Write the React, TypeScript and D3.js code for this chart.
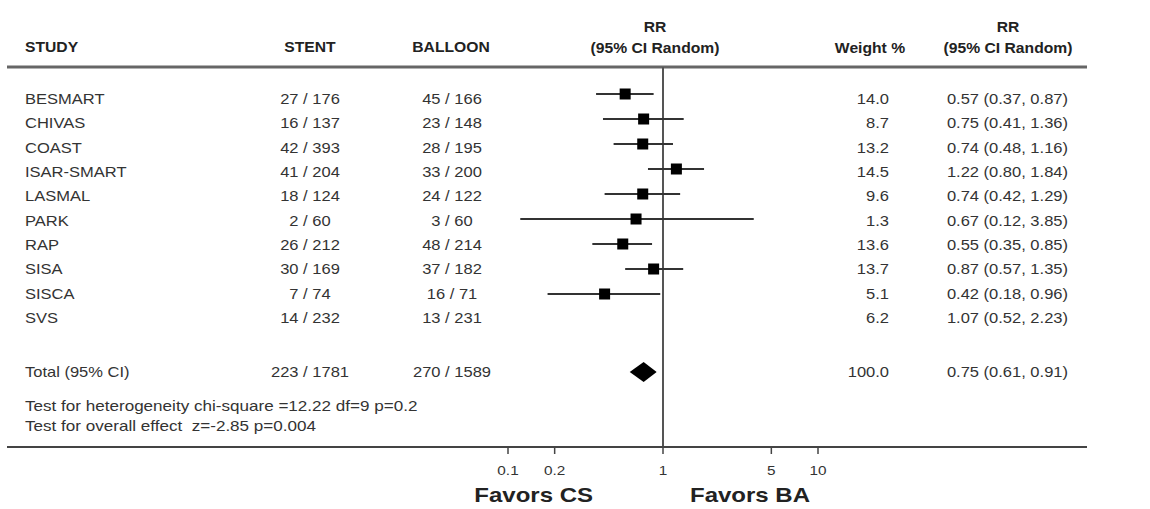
import React, { useEffect, useRef } from 'react';
import * as d3 from 'd3';

const studies = ['BESMART', 'CHIVAS', 'COAST', 'ISAR-SMART', 'LASMAL', 'PARK', 'RAP', 'SISA', 'SISCA', 'SVS'];
const stentEvents = [27, 16, 42, 41, 18, 2, 26, 30, 7, 14];
const stentTotal = [176, 137, 393, 204, 124, 60, 212, 169, 74, 232];
const balloonEvents = [45, 23, 28, 33, 24, 3, 48, 37, 16, 13];
const balloonTotal = [166, 148, 195, 200, 122, 60, 214, 182, 71, 231];
const weights = [14.0, 8.7, 13.2, 14.5, 9.6, 1.3, 13.6, 13.7, 5.1, 6.2];
const rr = [0.57, 0.75, 0.74, 1.22, 0.74, 0.67, 0.55, 0.87, 0.42, 1.07];
const rrLow = [0.37, 0.41, 0.48, 0.80, 0.42, 0.12, 0.35, 0.57, 0.18, 0.52];
const rrHigh = [0.87, 1.36, 1.16, 1.84, 1.29, 3.85, 0.85, 1.35, 0.96, 2.23];
// the source figure has no marker drawn for SVS
const drawn = [true, true, true, true, true, true, true, true, true, false];

const total = { stent: [223, 1781], balloon: [270, 1589], weight: 100.0, rr: 0.75, low: 0.61, high: 0.91 };
const axisTicks = [0.1, 0.2, 1, 5, 10];

const fmt2 = d3.format('.2f');
const fmt1 = d3.format('.1f');

const App = () => {
  const ref = useRef(null);

  useEffect(() => {
    const svg = d3.select(ref.current);
    svg.selectAll('*').remove();

    const W = 1150, H = 509;
    const x = d3.scaleLog().domain([0.1, 10]).range([508, 818]);
    const rowY = d3.scaleLinear().domain([0, 9]).range([99, 318]);
    const markY = d3.scaleLinear().domain([0, 8]).range([94, 294]);
    const totalY = 372;

    svg.append('rect').attr('width', W).attr('height', H).attr('fill', '#fff');

    const txt = (g, s, tx, ty, opts = {}) => {
      const { anchor = 'start', bold = false, size = 14, sx = 1.18, color = '#333' } = opts;
      g.append('g')
        .attr('transform', `translate(${tx},${ty}) scale(${sx},1)`)
        .append('text')
        .attr('text-anchor', anchor)
        .attr('dominant-baseline', 'central')
        .attr('font-family', 'Liberation Sans, Arial, sans-serif')
        .attr('font-size', size)
        .attr('font-weight', bold ? 'bold' : 'normal')
        .attr('fill', color)
        .style('white-space', 'pre')
        .text(s);
    };

    // header
    const hd = { bold: true, color: '#222', sx: 1.12 };
    txt(svg, 'STUDY', 25, 47, hd);
    txt(svg, 'STENT', 310, 47, { ...hd, anchor: 'middle' });
    txt(svg, 'BALLOON', 451, 47, { ...hd, anchor: 'middle' });
    txt(svg, 'RR', 655, 27, { ...hd, anchor: 'middle' });
    txt(svg, '(95% CI Random)', 655, 48, { ...hd, anchor: 'middle' });
    txt(svg, 'Weight %', 870, 48, { ...hd, anchor: 'middle' });
    txt(svg, 'RR', 1008, 27, { ...hd, anchor: 'middle' });
    txt(svg, '(95% CI Random)', 1008, 48, { ...hd, anchor: 'middle' });

    svg.append('line').attr('x1', 7).attr('x2', 1087).attr('y1', 67).attr('y2', 67)
      .attr('stroke', '#666').attr('stroke-width', 3);

    // line of no effect
    svg.append('line').attr('x1', x(1)).attr('x2', x(1)).attr('y1', 67).attr('y2', 447)
      .attr('stroke', '#555').attr('stroke-width', 2);

    // study rows
    studies.forEach((s, i) => {
      const y = rowY(i);
      txt(svg, s, 25, y);
      txt(svg, `${stentEvents[i]} / ${stentTotal[i]}`, 310, y, { anchor: 'middle' });
      txt(svg, `${balloonEvents[i]} / ${balloonTotal[i]}`, 452, y, { anchor: 'middle' });
      txt(svg, fmt1(weights[i]), 889, y, { anchor: 'end' });
      txt(svg, `${fmt2(rr[i])} (${fmt2(rrLow[i])}, ${fmt2(rrHigh[i])})`, 1068, y, { anchor: 'end' });

      if (drawn[i]) {
        const my = markY(i);
        svg.append('line').attr('x1', x(rrLow[i])).attr('x2', x(rrHigh[i]))
          .attr('y1', my).attr('y2', my).attr('stroke', '#333').attr('stroke-width', 2);
        svg.append('rect').attr('x', x(rr[i]) - 5.5).attr('y', my - 5.5)
          .attr('width', 11).attr('height', 11).attr('fill', '#000');
      }
    });

    // total
    txt(svg, 'Total (95% CI)', 25, totalY);
    txt(svg, `${total.stent[0]} / ${total.stent[1]}`, 310, totalY, { anchor: 'middle' });
    txt(svg, `${total.balloon[0]} / ${total.balloon[1]}`, 452, totalY, { anchor: 'middle' });
    txt(svg, fmt1(total.weight), 889, totalY, { anchor: 'end' });
    txt(svg, `${fmt2(total.rr)} (${fmt2(total.low)}, ${fmt2(total.high)})`, 1068, totalY, { anchor: 'end' });

    const diamond = [
      [x(total.low), totalY], [x(total.rr), totalY - 10],
      [x(total.high), totalY], [x(total.rr), totalY + 10],
    ];
    svg.append('path').attr('d', d3.line()(diamond) + 'Z').attr('fill', '#000');

    txt(svg, 'Test for heterogeneity chi-square =12.22 df=9 p=0.2', 25, 406, { size: 14, sx: 1.22 });
    txt(svg, 'Test for overall effect  z=-2.85 p=0.004', 25, 426, { size: 14, sx: 1.22 });

    // bottom axis
    svg.append('line').attr('x1', 7).attr('x2', 1087).attr('y1', 447).attr('y2', 447)
      .attr('stroke', '#444').attr('stroke-width', 2);

    axisTicks.forEach((t) => {
      svg.append('line').attr('x1', x(t)).attr('x2', x(t)).attr('y1', 447).attr('y2', 454)
        .attr('stroke', '#444').attr('stroke-width', 1.5);
      txt(svg, String(t), x(t), 470, { anchor: 'middle', size: 13 });
    });

    txt(svg, 'Favors CS', 593, 495, { anchor: 'end', bold: true, size: 20, sx: 1.2, color: '#222' });
    txt(svg, 'Favors BA', 690, 495, { bold: true, size: 20, sx: 1.2, color: '#222' });
  }, []);

  return (
    <svg ref={ref} width={1150} height={509}
      style={{ position: 'absolute', left: 0, top: 0 }} />
  );
};

export default App;
